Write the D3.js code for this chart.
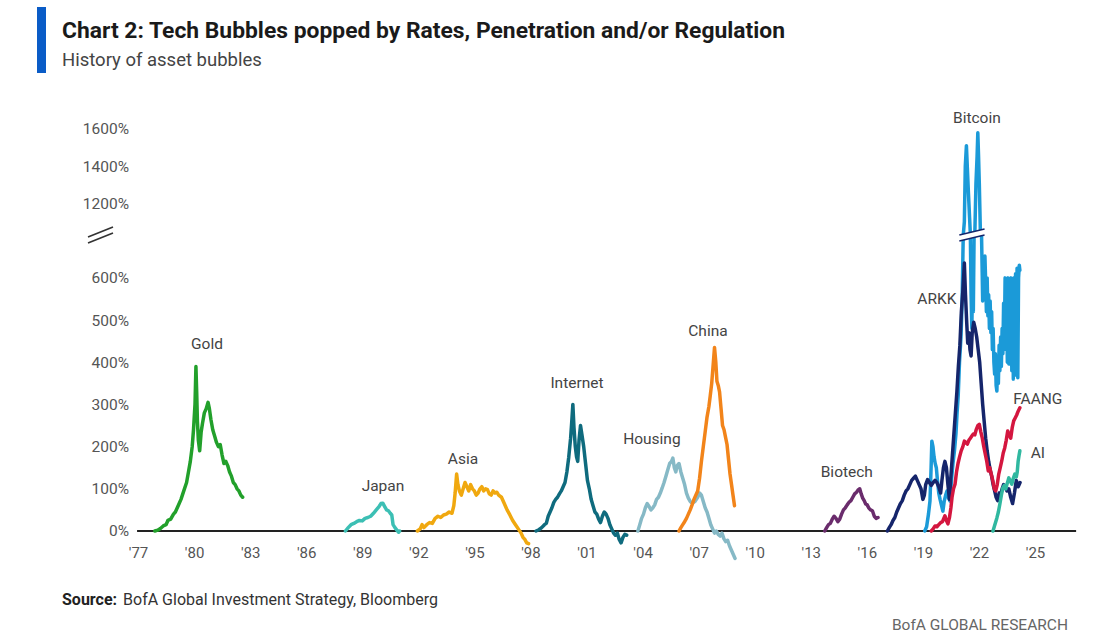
<!DOCTYPE html>
<html>
<head>
<meta charset="utf-8">
<title>Tech Bubbles</title>
<script src="https://cdn.jsdelivr.net/npm/d3@7"></script>
<style>
  body { margin: 0; background: #fff; }
  svg { display: block; font-family: Roboto, "Open Sans", sans-serif; }
</style>
</head>
<body>
<div id="chart"></div>
<script>
// axis ticks
const yearTicks = [1977, 1980, 1983, 1986, 1989, 1992, 1995, 1998, 2001, 2004, 2007, 2010, 2013, 2016, 2019, 2022, 2025];
const lowTicks = [0, 100, 200, 300, 400, 500, 600];
const highTicks = [1200, 1400, 1600];

// bubbles: [year, % rise from start]
const gold = [[1977.9, 0], [1978.05, 2], [1978.2, 6], [1978.35, 12], [1978.5, 15], [1978.6, 25], [1978.75, 28], [1978.9, 40], [1979.0, 45], [1979.15, 60], [1979.3, 75], [1979.45, 95], [1979.6, 115], [1979.7, 140], [1979.8, 165], [1979.9, 200], [1979.97, 240], [1980.05, 300], [1980.1, 390], [1980.14, 330], [1980.18, 260], [1980.23, 215], [1980.3, 190], [1980.38, 235], [1980.45, 255], [1980.55, 280], [1980.65, 290], [1980.75, 305], [1980.82, 290], [1980.9, 265], [1981.0, 240], [1981.1, 225], [1981.2, 210], [1981.3, 200], [1981.4, 205], [1981.5, 180], [1981.6, 160], [1981.7, 165], [1981.8, 155], [1981.9, 140], [1982.0, 130], [1982.1, 115], [1982.2, 110], [1982.3, 100], [1982.4, 95], [1982.5, 85], [1982.6, 80]];
const japan = [[1988.1, 0], [1988.25, 8], [1988.4, 15], [1988.55, 18], [1988.7, 22], [1988.85, 25], [1989.0, 24], [1989.15, 30], [1989.3, 32], [1989.45, 35], [1989.6, 42], [1989.75, 50], [1989.9, 58], [1990.0, 65], [1990.1, 66], [1990.2, 58], [1990.3, 50], [1990.4, 48], [1990.5, 42], [1990.58, 38], [1990.65, 15], [1990.75, 8], [1990.85, 2], [1990.95, -3], [1991.0, 0]];
const asia = [[1991.95, 0], [1992.1, 5], [1992.2, 15], [1992.3, 8], [1992.45, 15], [1992.6, 20], [1992.75, 18], [1992.9, 30], [1993.05, 35], [1993.2, 32], [1993.35, 38], [1993.5, 40], [1993.65, 45], [1993.8, 42], [1993.9, 60], [1993.97, 90], [1994.05, 135], [1994.12, 110], [1994.2, 95], [1994.3, 85], [1994.4, 100], [1994.5, 115], [1994.6, 105], [1994.7, 95], [1994.8, 110], [1994.9, 100], [1995.0, 95], [1995.1, 85], [1995.2, 90], [1995.3, 100], [1995.4, 105], [1995.5, 95], [1995.6, 100], [1995.7, 98], [1995.8, 88], [1995.9, 85], [1996.0, 95], [1996.1, 90], [1996.2, 92], [1996.3, 85], [1996.45, 80], [1996.6, 65], [1996.75, 50], [1996.9, 38], [1997.05, 25], [1997.2, 15], [1997.35, 5], [1997.5, -5], [1997.6, -15], [1997.7, -20], [1997.8, -28], [1997.9, -30]];
const internet = [[1998.3, 0], [1998.45, 3], [1998.6, 8], [1998.75, 15], [1998.85, 18], [1998.95, 35], [1999.05, 45], [1999.15, 55], [1999.25, 68], [1999.35, 75], [1999.45, 80], [1999.55, 88], [1999.65, 95], [1999.75, 105], [1999.85, 115], [1999.95, 140], [2000.05, 175], [2000.15, 220], [2000.22, 265], [2000.27, 300], [2000.33, 245], [2000.4, 200], [2000.47, 175], [2000.53, 165], [2000.6, 215], [2000.68, 250], [2000.75, 230], [2000.85, 200], [2000.95, 160], [2001.05, 120], [2001.15, 100], [2001.25, 75], [2001.35, 60], [2001.45, 45], [2001.55, 40], [2001.65, 28], [2001.75, 20], [2001.85, 35], [2001.95, 45], [2002.05, 40], [2002.15, 30], [2002.25, 15], [2002.35, 5], [2002.45, -5], [2002.55, -10], [2002.65, -5], [2002.75, -20], [2002.85, -28], [2002.95, -15], [2003.05, -8], [2003.15, -10]];
const housing = [[2003.75, 0], [2003.85, 15], [2003.95, 30], [2004.05, 40], [2004.15, 55], [2004.25, 65], [2004.35, 58], [2004.45, 50], [2004.55, 55], [2004.65, 62], [2004.75, 75], [2004.85, 80], [2004.95, 90], [2005.05, 102], [2005.15, 115], [2005.25, 130], [2005.35, 145], [2005.45, 160], [2005.55, 165], [2005.62, 173], [2005.7, 150], [2005.78, 140], [2005.85, 155], [2005.95, 160], [2006.05, 140], [2006.15, 125], [2006.25, 110], [2006.35, 90], [2006.45, 78], [2006.55, 70], [2006.65, 66], [2006.8, 70], [2006.95, 80], [2007.05, 90], [2007.15, 85], [2007.25, 70], [2007.35, 55], [2007.45, 45], [2007.55, 30], [2007.65, 15], [2007.75, 5], [2007.85, -5], [2007.95, 0], [2008.05, -8], [2008.15, -12], [2008.25, -5], [2008.35, -18], [2008.45, -25], [2008.55, -22], [2008.65, -35], [2008.75, -45], [2008.85, -55], [2008.95, -65]];
const china = [[2005.95, 0], [2006.05, 8], [2006.15, 15], [2006.25, 22], [2006.35, 30], [2006.45, 40], [2006.55, 50], [2006.65, 62], [2006.75, 75], [2006.85, 85], [2006.95, 95], [2007.05, 125], [2007.15, 165], [2007.25, 200], [2007.35, 235], [2007.45, 270], [2007.55, 295], [2007.62, 320], [2007.7, 350], [2007.78, 395], [2007.85, 435], [2007.92, 400], [2007.98, 355], [2008.05, 345], [2008.12, 330], [2008.2, 290], [2008.28, 250], [2008.36, 240], [2008.45, 220], [2008.52, 205], [2008.6, 170], [2008.68, 135], [2008.76, 110], [2008.84, 85], [2008.92, 60]];
const biotech = [[2013.75, 0], [2013.85, 8], [2013.95, 15], [2014.05, 18], [2014.15, 28], [2014.25, 35], [2014.35, 30], [2014.45, 22], [2014.55, 28], [2014.65, 40], [2014.75, 50], [2014.85, 55], [2014.95, 62], [2015.05, 68], [2015.15, 72], [2015.25, 80], [2015.35, 88], [2015.45, 92], [2015.55, 98], [2015.62, 100], [2015.7, 88], [2015.78, 78], [2015.86, 72], [2015.94, 64], [2016.02, 62], [2016.1, 55], [2016.2, 50], [2016.3, 48], [2016.4, 35], [2016.5, 30], [2016.6, 32]];
const bitcoin = [[2019.1, 0], [2019.2, 10], [2019.3, 40], [2019.38, 71], [2019.44, 150], [2019.48, 213], [2019.54, 200], [2019.6, 175], [2019.66, 160], [2019.72, 150], [2019.78, 120], [2019.85, 90], [2019.92, 75], [2020.0, 60], [2020.07, 47], [2020.14, 70], [2020.22, 85], [2020.29, 95], [2020.36, 80], [2020.45, 71], [2020.53, 120], [2020.61, 160], [2020.69, 190], [2020.77, 230], [2020.83, 280], [2020.89, 320], [2020.96, 400], [2021.04, 460], [2021.1, 545], [2021.16, 700], [2021.22, 1100], [2021.27, 1400], [2021.33, 1510], [2021.38, 1390], [2021.44, 1250], [2021.5, 1120], [2021.54, 800], [2021.58, 560], [2021.62, 480], [2021.66, 600], [2021.7, 520], [2021.74, 700], [2021.78, 1000], [2021.84, 1306], [2021.9, 1450], [2021.94, 1580], [2021.98, 1450], [2022.02, 1306], [2022.08, 1000], [2022.14, 700], [2022.2, 545], [2022.24, 620], [2022.28, 560], [2022.32, 652], [2022.36, 590], [2022.4, 520], [2022.44, 600], [2022.48, 510], [2022.52, 560], [2022.56, 480], [2022.6, 545], [2022.64, 470], [2022.68, 520], [2022.72, 430], [2022.76, 480], [2022.8, 400], [2022.84, 372], [2022.88, 420], [2022.92, 345], [2022.96, 332], [2023.0, 403], [2023.04, 350], [2023.08, 440], [2023.12, 380], [2023.16, 460], [2023.2, 390], [2023.24, 480], [2023.28, 420], [2023.32, 540], [2023.36, 450], [2023.4, 600], [2023.44, 430], [2023.48, 560], [2023.52, 400], [2023.56, 600], [2023.6, 396], [2023.64, 580], [2023.68, 420], [2023.72, 600], [2023.76, 380], [2023.8, 590], [2023.84, 360], [2023.88, 600], [2023.92, 370], [2023.96, 610], [2024.0, 380], [2024.04, 623], [2024.08, 363], [2024.12, 600], [2024.16, 630], [2024.19, 618]];
const arkk = [[2017.1, 0], [2017.2, 8], [2017.3, 15], [2017.4, 25], [2017.5, 32], [2017.6, 45], [2017.7, 55], [2017.8, 65], [2017.9, 72], [2018.0, 85], [2018.1, 95], [2018.2, 100], [2018.3, 110], [2018.4, 120], [2018.5, 125], [2018.6, 130], [2018.7, 120], [2018.8, 110], [2018.9, 100], [2019.0, 75], [2019.08, 85], [2019.15, 110], [2019.25, 122], [2019.35, 115], [2019.45, 108], [2019.55, 115], [2019.65, 120], [2019.75, 115], [2019.85, 105], [2019.95, 90], [2020.02, 120], [2020.1, 150], [2020.18, 165], [2020.26, 150], [2020.34, 110], [2020.42, 75], [2020.5, 130], [2020.58, 180], [2020.66, 230], [2020.74, 280], [2020.82, 330], [2020.9, 390], [2020.98, 440], [2021.06, 520], [2021.14, 570], [2021.22, 635], [2021.28, 560], [2021.34, 500], [2021.4, 445], [2021.46, 470], [2021.52, 430], [2021.58, 415], [2021.64, 470], [2021.72, 495], [2021.8, 480], [2021.88, 460], [2021.96, 430], [2022.04, 400], [2022.12, 350], [2022.2, 300], [2022.28, 260], [2022.36, 220], [2022.44, 190], [2022.52, 165], [2022.6, 145], [2022.68, 130], [2022.76, 110], [2022.84, 95], [2022.92, 80], [2023.0, 72], [2023.08, 90], [2023.16, 85], [2023.24, 100], [2023.32, 110], [2023.4, 105], [2023.5, 95], [2023.6, 100], [2023.7, 80], [2023.8, 65], [2023.9, 90], [2024.0, 120], [2024.1, 105], [2024.2, 115]];
const faang = [[2019.45, 0], [2019.55, 5], [2019.65, 12], [2019.75, 10], [2019.85, 15], [2019.95, 20], [2020.05, 22], [2020.12, 30], [2020.18, 36], [2020.26, 25], [2020.34, 17], [2020.42, 31], [2020.5, 55], [2020.56, 80], [2020.64, 100], [2020.72, 111], [2020.8, 140], [2020.88, 160], [2020.96, 175], [2021.05, 190], [2021.14, 200], [2021.22, 213], [2021.3, 210], [2021.38, 206], [2021.46, 215], [2021.54, 220], [2021.62, 225], [2021.7, 230], [2021.78, 228], [2021.86, 241], [2021.94, 250], [2022.02, 253], [2022.1, 235], [2022.18, 220], [2022.26, 200], [2022.34, 182], [2022.42, 165], [2022.5, 142], [2022.58, 150], [2022.66, 135], [2022.74, 120], [2022.82, 100], [2022.9, 95], [2022.98, 110], [2023.06, 135], [2023.14, 150], [2023.22, 166], [2023.3, 185], [2023.38, 197], [2023.46, 215], [2023.54, 237], [2023.62, 228], [2023.7, 220], [2023.78, 245], [2023.86, 261], [2023.94, 268], [2024.02, 275], [2024.1, 284], [2024.19, 292]];
const ai = [[2022.75, 0], [2022.82, 10], [2022.9, 22], [2022.96, 31], [2023.04, 45], [2023.12, 64], [2023.2, 85], [2023.28, 102], [2023.36, 108], [2023.44, 100], [2023.5, 111], [2023.56, 120], [2023.6, 126], [2023.68, 118], [2023.76, 111], [2023.84, 125], [2023.92, 135], [2024.0, 128], [2024.05, 140], [2024.1, 166], [2024.15, 180], [2024.19, 190]];

const bubbles = [
    { name: "Gold", data: gold, color: "#22a02b" },
    { name: "Japan", data: japan, color: "#3cbfb4" },
    { name: "Asia", data: asia, color: "#f0a80f" },
    { name: "Internet", data: internet, color: "#0f6b7e" },
    { name: "Housing", data: housing, color: "#86b9c6" },
    { name: "China", data: china, color: "#f2841a" },
    { name: "Biotech", data: biotech, color: "#6a2c6c" },
    { name: "Bitcoin", data: bitcoin, color: "#1b9ad8" },
    { name: "ARKK", data: arkk, color: "#15256b" },
    { name: "FAANG", data: faang, color: "#d4163f" },
    { name: "AI", data: ai, color: "#30b8a0" }
];

// label anchors in data units
const bubbleLabels = [
    { name: "Gold", year: 1980.69, value: 445 },
    { name: "Japan", year: 1990.11, value: 107 },
    { name: "Asia", year: 1994.39, value: 171 },
    { name: "Internet", year: 2000.49, value: 351 },
    { name: "Housing", year: 2004.5, value: 220 },
    { name: "China", year: 2007.5, value: 476 },
    { name: "Biotech", year: 2014.93, value: 142 },
    { name: "ARKK", year: 2019.75, value: 550 },
    { name: "Bitcoin", year: 2021.89, value: 1663 },
    { name: "FAANG", year: 2025.15, value: 315 },
    { name: "AI", year: 2025.15, value: 187 }
];

document.addEventListener('DOMContentLoaded', function() {
    const width = 1100, height = 640;

    const svg = d3.select("#chart")
        .append("svg")
        .attr("width", width)
        .attr("height", height);

    // header
    svg.append("rect")
        .attr("x", 37).attr("y", 7)
        .attr("width", 9).attr("height", 66)
        .attr("fill", "#0a5cc7");

    svg.append("text")
        .attr("x", 62).attr("y", 38)
        .attr("font-size", 21.5)
        .attr("font-weight", "bold")
        .attr("fill", "#1a1a1a")
        .attr("textLength", 723)
        .attr("lengthAdjust", "spacingAndGlyphs")
        .text("Chart 2: Tech Bubbles popped by Rates, Penetration and/or Regulation");

    svg.append("text")
        .attr("x", 62).attr("y", 66)
        .attr("font-size", 18.5)
        .attr("fill", "#444")
        .text("History of asset bubbles");

    // scales: broken y axis, 0-700% then 1000-1600%
    const x = d3.scaleLinear()
        .domain([1977, 2025])
        .range([138, 1035]);

    const y = d3.scaleLinear()
        .domain([0, 704, 1033, 1600])
        .range([531, 234, 234, 129]);

    // y axis labels
    const yAxis = d3.axisLeft(y)
        .tickValues(lowTicks.concat(highTicks))
        .tickFormat(d => d + "%")
        .tickSize(0)
        .tickPadding(0);

    const gy = svg.append("g")
        .attr("transform", "translate(129,0)")
        .call(yAxis);
    gy.select(".domain").remove();
    gy.selectAll("text")
        .attr("font-size", 15.5)
        .attr("font-family", "Roboto, sans-serif")
        .attr("fill", "#555");

    // axis break mark
    [0, 6].forEach(off => {
        svg.append("line")
            .attr("x1", 88).attr("y1", 237 + off)
            .attr("x2", 113).attr("y2", 227 + off)
            .attr("stroke", "#333")
            .attr("stroke-width", 1.6);
    });

    // x axis
    const xAxis = d3.axisBottom(x)
        .tickValues(yearTicks)
        .tickFormat(d => "'" + String(d).slice(2))
        .tickSize(0)
        .tickPadding(16);

    const gx = svg.append("g")
        .attr("transform", "translate(0,531)")
        .call(xAxis);
    gx.select(".domain").remove();
    gx.selectAll("text")
        .attr("font-size", 15)
        .attr("font-family", "Roboto, sans-serif")
        .attr("fill", "#555");

    svg.append("line")
        .attr("x1", x(1976.95)).attr("x2", x(2027.2))
        .attr("y1", y(0)).attr("y2", y(0))
        .attr("stroke", "#222")
        .attr("stroke-width", 1.8);

    // bubble lines
    const line = d3.line()
        .x(d => x(d[0]))
        .y(d => y(d[1]));

    svg.append("g")
        .selectAll("path")
        .data(bubbles)
        .enter()
        .append("path")
        .attr("d", d => line(d.data))
        .attr("fill", "none")
        .attr("stroke", d => d.color)
        .attr("stroke-width", 3.5)
        .attr("stroke-linejoin", "round")
        .attr("stroke-linecap", "round");

    // break mark on the bitcoin line
    const bx0 = x(2020.95), bx1 = x(2022.3), by = y(704);
    svg.append("path")
        .attr("d", `M${bx0},${by + 1}L${bx1},${by - 5}L${bx1},${by + 1}L${bx0},${by + 7}Z`)
        .attr("fill", "#fff");
    [0, 6].forEach(off => {
        svg.append("line")
            .attr("x1", bx0).attr("y1", by + 1 + off)
            .attr("x2", bx1).attr("y2", by - 5 + off)
            .attr("stroke", "#15256b")
            .attr("stroke-width", 1.5);
    });

    // labels
    svg.append("g")
        .selectAll("text")
        .data(bubbleLabels)
        .enter()
        .append("text")
        .attr("x", d => x(d.year))
        .attr("y", d => y(d.value))
        .attr("dy", "0.35em")
        .attr("text-anchor", "middle")
        .attr("font-size", 15.5)
        .attr("fill", "#444")
        .text(d => d.name);

    // footer
    const src = svg.append("text")
        .attr("x", 62).attr("y", 605)
        .attr("font-size", 16)
        .attr("fill", "#333");
    src.append("tspan").attr("font-weight", "bold").attr("fill", "#222").text("Source:");
    src.append("tspan").attr("dx", 6).text("BofA Global Investment Strategy, Bloomberg");

    svg.append("text")
        .attr("x", 1068).attr("y", 630)
        .attr("text-anchor", "end")
        .attr("font-size", 15.5)
        .attr("fill", "#666")
        .text("BofA GLOBAL RESEARCH");
});
</script>
</body>
</html>
